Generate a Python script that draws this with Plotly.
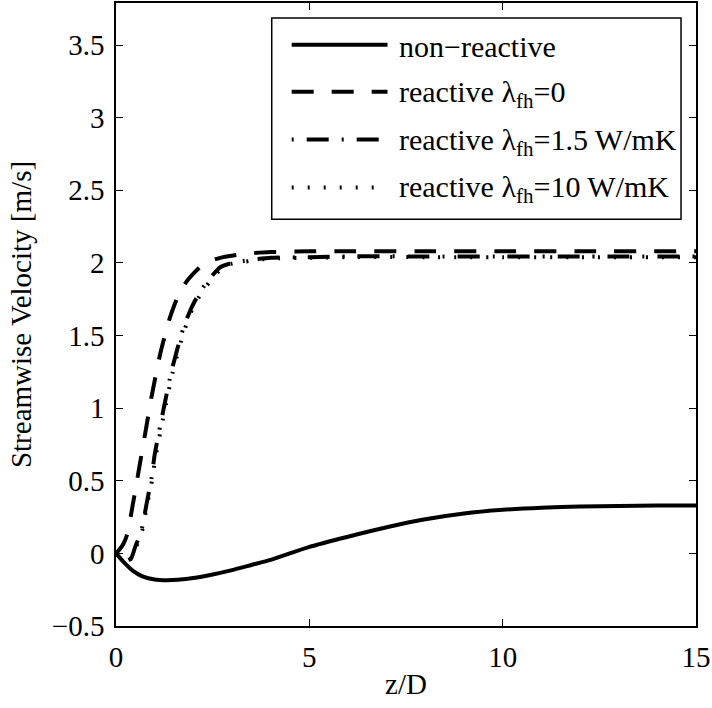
import plotly.graph_objects as go

# ---- data ----
z_nonreactive = [0, 0.2, 0.44, 0.7, 1.0, 1.3, 1.6, 2.0, 2.5, 3.0, 3.5, 4.0, 5, 6, 7, 8, 9, 10, 11, 12, 13, 14, 15]
v_nonreactive = [0, -0.06, -0.12, -0.16, -0.18, -0.185, -0.182, -0.17, -0.145, -0.115, -0.08, -0.045,
                 0.045, 0.115, 0.18, 0.235, 0.275, 0.30, 0.315, 0.323, 0.327, 0.329, 0.33]

z_lam0 = [0, 0.1, 0.2, 0.3, 0.43, 0.53, 0.62, 0.79, 0.92, 1.14, 1.39, 1.6, 1.82, 2.05, 2.25, 2.5,
          2.77, 3.1, 3.4, 4, 5, 6, 8, 10, 12, 15]
v_lam0 = [0, 0.03, 0.07, 0.14, 0.33, 0.48, 0.62, 0.88, 1.08, 1.37, 1.62, 1.77, 1.87, 1.94, 1.99, 2.02,
          2.04, 2.055, 2.065, 2.075, 2.08, 2.08, 2.08, 2.08, 2.08, 2.08]

z_lam15 = [0, 0.15, 0.3, 0.4, 0.49, 0.58, 0.66, 0.79, 0.92, 1.0, 1.22, 1.44, 1.74, 1.95, 2.17, 2.45,
           2.69, 3.0, 3.2, 3.6, 4, 5, 6, 8, 10, 12, 15]
v_lam15 = [0, -0.03, -0.05, -0.03, 0.04, 0.1, 0.16, 0.34, 0.52, 0.68, 0.98, 1.26, 1.55, 1.69, 1.8, 1.9,
           1.97, 2.0, 2.01, 2.025, 2.035, 2.04, 2.045, 2.045, 2.045, 2.045, 2.045]

z_lam10 = [0, 0.15, 0.3, 0.4, 0.5, 0.6, 0.68, 0.8, 0.93, 1.02, 1.24, 1.46, 1.76, 1.97, 2.2, 2.48,
           2.72, 3.0, 3.25, 3.6, 4, 5, 6, 8, 10, 12, 15]
v_lam10 = [0, -0.03, -0.05, -0.035, 0.03, 0.1, 0.16, 0.33, 0.5, 0.66, 0.96, 1.24, 1.53, 1.68, 1.79, 1.89,
           1.96, 1.995, 2.005, 2.02, 2.03, 2.035, 2.04, 2.04, 2.04, 2.04, 2.04]

names = ["non\u2212reactive", "reactive \u03bb<sub>fh</sub>=0",
         "reactive \u03bb<sub>fh</sub>=1.5 W/mK", "reactive \u03bb<sub>fh</sub>=10 W/mK"]
dashes = ["solid", "22px,18px", "2px,13px,22px,13px", "2px,14px"]

x_ticks = [0, 5, 10, 15]
x_ticklabels = ["0", "5", "10", "15"]
y_ticks = [-0.5, 0, 0.5, 1, 1.5, 2, 2.5, 3, 3.5]
y_ticklabels = ["\u22120.5", "0", "0.5", "1", "1.5", "2", "2.5", "3", "3.5"]

FONT = "Liberation Serif, Times New Roman, serif"
FS = 29
FS_LEG = 30
W, H = 712, 708
L, R, T, B = 116, 15, 1, 82

fig = go.Figure()
series = [(z_nonreactive, v_nonreactive), (z_lam0, v_lam0), (z_lam15, v_lam15), (z_lam10, v_lam10)]
for (zz, vv), nm, ds in zip(series, names, dashes):
    fig.add_trace(go.Scatter(x=zz, y=vv, mode="lines", name=nm, showlegend=False,
                             line=dict(color="black", width=4, dash=ds, shape="spline", smoothing=0.6)))

# ---- manual legend (MATLAB style, long line samples) ----
pw, ph = W - L - R, H - T - B
def px(x):
    return (x - L) / pw
def py(y):
    return (H - B - y) / ph

fig.add_shape(type="rect", xref="paper", yref="paper",
              x0=px(272), x1=px(682), y0=py(218), y1=py(16),
              line=dict(color="black", width=1.5), fillcolor="white", layer="above")
entry_y = [43, 90, 138, 186]
for ey, nm, ds in zip(entry_y, names, dashes):
    fig.add_shape(type="line", xref="paper", yref="paper",
                  x0=px(292), x1=px(388), y0=py(ey), y1=py(ey),
                  line=dict(color="black", width=4, dash=ds), layer="above")
    fig.add_annotation(xref="paper", yref="paper", x=px(397), y=py(ey + 2), xanchor="left", yanchor="middle",
                       text=nm, showarrow=False, font=dict(family=FONT, size=FS_LEG, color="black"))

axis_common = dict(showline=True, linecolor="black", linewidth=1.5, mirror="ticks",
                   ticks="inside", ticklen=7, tickwidth=1, tickcolor="black",
                   showgrid=False, zeroline=False,
                   tickfont=dict(family=FONT, size=FS, color="black"))

fig.update_layout(
    width=W, height=H,
    margin=dict(l=L, r=R, t=T, b=B),
    plot_bgcolor="white", paper_bgcolor="white",
    xaxis=dict(range=[0, 15], tickvals=x_ticks, ticktext=x_ticklabels,
               title=dict(text="z/D", font=dict(family=FONT, size=FS, color="black"), standoff=2),
               ticklabelstandoff=4, **axis_common),
    yaxis=dict(range=[-0.5, 3.79], tickvals=y_ticks, ticktext=y_ticklabels,
               title=dict(text="Streamwise Velocity [m/s]", font=dict(family=FONT, size=FS, color="black"),
                          standoff=12),
               ticklabelstandoff=4, **axis_common),
    showlegend=False,
)

fig.write_html("out.html")
